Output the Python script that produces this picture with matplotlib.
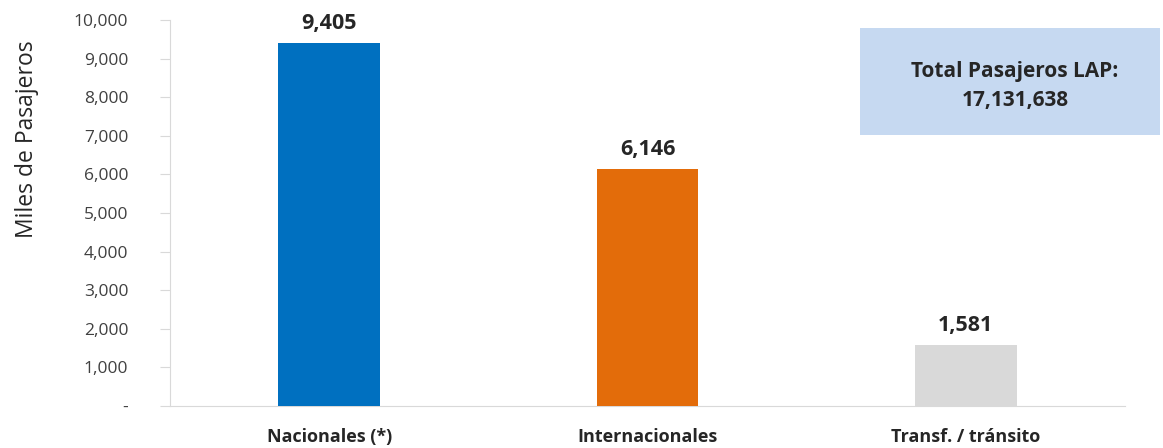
import matplotlib.pyplot as plt
from matplotlib.patches import Rectangle
from matplotlib.ticker import FuncFormatter

categorias = ["Nacionales (*)", "Internacionales", "Transf. / tránsito"]
valores = [9405, 6146, 1581]
colores = ["#0070C0", "#E36C0A", "#D9D9D9"]
total_texto = "Total Pasajeros LAP:\n17,131,638"

plt.rcParams['font.family'] = ['Open Sans', 'DejaVu Sans']

W, H = 1163, 448
fig = plt.figure(figsize=(W / 100, H / 100), dpi=100)
ax = fig.add_axes([170 / W, 42 / H, 955 / W, 386 / H])

x = list(range(len(categorias)))
ax.bar(x, valores, width=0.32, color=colores, zorder=3)

for xi, v in zip(x, valores):
    ax.text(xi, v + 230, f"{v:,}", ha='center', va='bottom',
            fontsize=15.5, fontweight='bold', color='#262626')

ax.set_xlim(-0.5, 2.5)
ax.set_ylim(0, 10000)
ax.set_yticks(range(0, 10001, 1000))
ax.yaxis.set_major_formatter(FuncFormatter(lambda v, p: "-" if v == 0 else f"{int(v):,}"))
ax.set_xticks(x)
ax.set_xticklabels(categorias, fontsize=13, fontweight='bold', color='#262626')
ax.tick_params(axis='x', length=0, pad=16)
ax.tick_params(axis='y', length=7, color='#D9D9D9', labelsize=12.5,
               labelcolor='#404040', pad=23)

for s in ['top', 'right']:
    ax.spines[s].set_visible(False)
ax.spines['left'].set_color('#D9D9D9')
ax.spines['bottom'].set_color('#D9D9D9')

ax.set_ylabel("Miles de Pasajeros", fontsize=16.5, color='#262626')
ax.yaxis.set_label_coords(-0.137, 0.69)

# recuadro con el total
fig.patches.append(Rectangle((860 / W, 1 - 135 / H), 300 / W, 107 / H,
                             transform=fig.transFigure, fc='#C6D9F1', ec='none'))
fig.text(1015 / W, 1 - 86 / H, total_texto, ha='center', va='center',
         fontsize=15, fontweight='bold', color='#262626', linespacing=1.5)

fig.savefig('out.png', dpi=100)
